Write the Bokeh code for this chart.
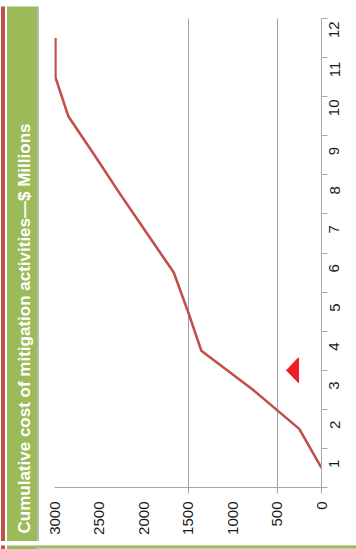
import math

from bokeh.core.properties import value
from bokeh.embed import file_html
from bokeh.layouts import column, row
from bokeh.models import FixedTicker, Range1d
from bokeh.plotting import figure
from bokeh.resources import INLINE

# Monthly cumulative cost of mitigation activities ($ millions)
months = [1, 2, 3, 4, 5, 6, 7, 8, 9, 10, 11, 12]
month_labels = ["1", "2", "3", "4", "5", "6", "7", "8", "9", "10", "11", "12"]
cost = [0, 250, 770, 1350, 1500, 1660, 1960, 2260, 2550, 2845, 2990, 2990]

value_ticks = [0, 500, 1000, 1500, 2000, 2500, 3000]
grid_values = [500, 1500]

# "current month" pointer
marker_month = [3.5]
marker_value = [258]

title_text = "Cumulative cost of mitigation activities\u2014$ Millions"

FONT = "Liberation Sans"
GREEN = "#9bbb59"
RED = "#c0504d"
AXIS_GRAY = "#a6a6a6"
W, H = 356, 549
TOP_H, BOTTOM_H = 6, 8
LEFT_W = 39

# page decoration, in page pixels: (left, right, top, bottom, colour)
frame_pieces = [
    (1, 4, 0, H, RED),
    (7, 37, 1, 546, GREEN),
    (37, 39, 2, 546, "#b8b8b8"),
    (39, W, 3, 5, GREEN),
    (39, W, 541, 544, GREEN),
    (39, W, 544, 546, "#c8c8c8"),
]


def strip(x0, y0, width, height):
    """A bare figure covering one piece of the page, in page pixels."""
    f = figure(
        width=width, height=height, title=None,
        output_backend="svg", toolbar_location=None,
        x_range=Range1d(x0, x0 + width), y_range=Range1d(y0 + height, y0),
        x_axis_location=None, y_axis_location=None,
        min_border=0,
    )
    f.grid.grid_line_color = None
    f.outline_line_color = None
    f.background_fill_color = "white"
    f.border_fill_color = "white"
    for l, r, t, b, c in frame_pieces:
        f.quad(left=[l], right=[r], top=[t], bottom=[b], color=c)
    return f


top_strip = strip(0, 0, W, TOP_H)
bottom_strip = strip(0, H - BOTTOM_H, W, BOTTOM_H)
band = strip(0, TOP_H, LEFT_W, H - TOP_H - BOTTOM_H)

# title reads upward inside the green band
band.text(
    x=[24], y=[328], text=[title_text], angle=math.pi / 2,
    text_align="center", text_baseline="middle",
    text_color="white", text_font=value(FONT), text_font_style="bold",
    text_font_size="17px",
)

# ---- the chart: months up the right side, cost right-to-left along the bottom ----
p = figure(
    width=W - LEFT_W, height=H - TOP_H - BOTTOM_H, title=None,
    output_backend="svg", toolbar_location=None,
    x_range=Range1d(3000, 0), y_range=Range1d(0.5, 12.5),
    x_axis_location="below", y_axis_location="right",
    min_border_left=15, min_border_right=35,
    min_border_top=12, min_border_bottom=54,
)
p.outline_line_color = None
p.background_fill_color = "white"
p.border_fill_color = "white"

xa = p.xaxis[0]
xa.ticker = FixedTicker(ticks=value_ticks, minor_ticks=[0] + grid_values)
xa.major_tick_out = 0
xa.major_tick_in = 0
xa.minor_tick_out = 6
xa.minor_tick_in = 0
xa.axis_line_color = AXIS_GRAY
xa.minor_tick_line_color = AXIS_GRAY
xa.major_label_orientation = math.pi / 2
xa.major_label_standoff = 8
xa.major_label_text_font = FONT
xa.major_label_text_font_size = "15px"
xa.major_label_text_color = "#1a1a1a"

ya = p.yaxis[0]
ya.ticker = FixedTicker(ticks=months, minor_ticks=[m - 0.5 for m in months] + [months[-1] + 0.5])
ya.major_label_overrides = {m: lab for m, lab in zip(months, month_labels)}
ya.major_tick_out = 0
ya.major_tick_in = 0
ya.minor_tick_out = 6
ya.minor_tick_in = 0
ya.axis_line_color = AXIS_GRAY
ya.minor_tick_line_color = AXIS_GRAY
ya.major_label_orientation = math.pi / 2
ya.major_label_standoff = 7
ya.major_label_text_font = FONT
ya.major_label_text_font_size = "15px"
ya.major_label_text_color = "#1a1a1a"

p.xgrid.ticker = FixedTicker(ticks=grid_values)
p.xgrid.grid_line_color = "#a0a0a0"
p.xgrid.grid_line_width = 1
p.ygrid.grid_line_color = None

p.line(cost, months, line_color=RED, line_width=2.6)

# pointer triangle, tip toward higher cost
half = 0.32
depth = 135
p.patch(
    [marker_value[0], marker_value[0], marker_value[0] + depth],
    [marker_month[0] - half, marker_month[0] + half, marker_month[0]],
    fill_color="#ee1c25", line_color="#ee1c25",
)

# the chart sits in its own column so the band keeps its full height
layout = column(
    top_strip,
    row(band, column(p, spacing=0), spacing=0),
    bottom_strip,
    spacing=0,
)

open("out.html", "w").write(file_html(layout, INLINE))
